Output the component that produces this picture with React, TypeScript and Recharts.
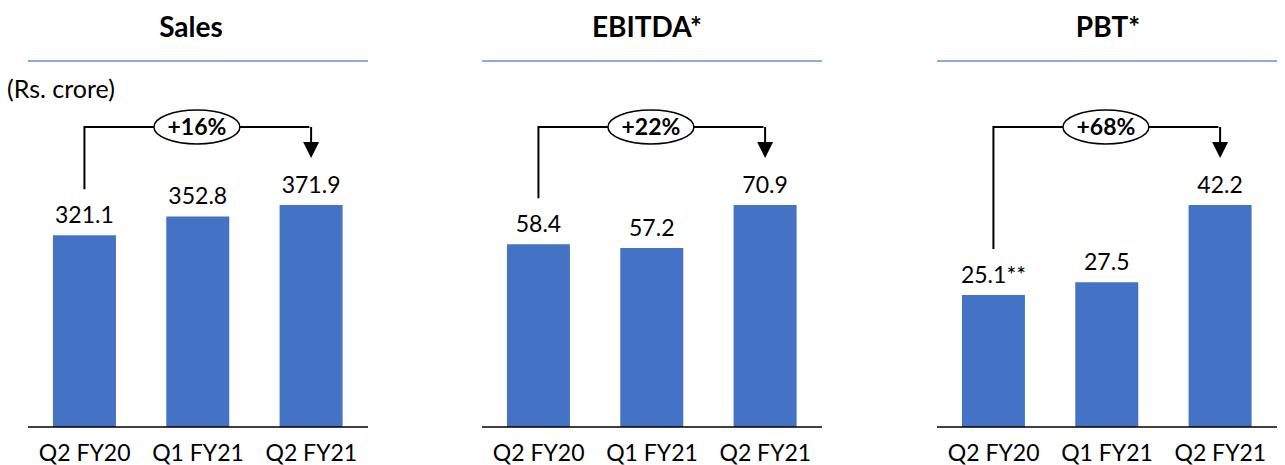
import React from 'react';
import { BarChart, Bar, XAxis, YAxis, LabelList } from 'recharts';

const categories = ['Q2 FY20', 'Q1 FY21', 'Q2 FY21'];

const salesValues = [321.1, 352.8, 371.9];
const ebitdaValues = [58.4, 57.2, 70.9];
const pbtValues = [25.1, 27.5, 42.2];

const salesNotes = ['', '', ''];
const ebitdaNotes = ['', '', ''];
const pbtNotes = ['**', '', ''];

const panelTitles = ['Sales', 'EBITDA*', 'PBT*'];
const growthLabels = ['+16%', '+22%', '+68%'];

const BAR_COLOR = '#4472C4';
const FONT = 'Lato, "Open Sans", sans-serif';
const BRACKET_Y = 127;
const GAP = 0.22;

interface PanelProps {
  title: string;
  values: number[];
  notes: string[];
  growth: string;
  left: number;
  titleX: number;
}

const Panel: React.FC<PanelProps> = ({ title, values, notes, growth, left, titleX }) => {
  const data = categories.map((name, i) => ({ name, value: values[i], note: notes[i] }));
  // the tallest bar ends ~222px above the axis, plot area is 327px high
  const yMax = Math.max(...values) * (327 / 222);

  const renderLabel = (props: any) => {
    const { x, y, width, index, value } = props;
    const cx = x + width / 2;
    const step = width / (1 - 2 * GAP);
    return (
      <g>
        <text x={cx} y={y - 12} textAnchor="middle" fontSize={23} fontFamily={FONT} fill="#000">
          {value}
          {data[index].note}
        </text>
        {index === 0 && (
          <g>
            <polyline
              points={`${cx},${y - 46} ${cx},${BRACKET_Y} ${cx + 2 * step},${BRACKET_Y}`}
              fill="none"
              stroke="#000"
              strokeWidth={2}
            />
            <ellipse cx={cx + step} cy={BRACKET_Y} rx={43} ry={17} fill="#fff" stroke="#000" strokeWidth={1.5} />
            <text
              x={cx + step}
              y={BRACKET_Y + 8}
              textAnchor="middle"
              fontSize={23}
              fontWeight={700}
              fontFamily={FONT}
              fill="#000"
            >
              {growth}
            </text>
          </g>
        )}
        {index === 2 && (
          <g>
            <line x1={cx} y1={BRACKET_Y} x2={cx} y2={y - 60} stroke="#000" strokeWidth={2} />
            <polygon points={`${cx - 8},${y - 63} ${cx + 8},${y - 63} ${cx},${y - 47}`} fill="#000" />
          </g>
        )}
      </g>
    );
  };

  return (
    <div style={{ position: 'absolute', left, top: 0, width: 340, height: 465 }}>
      <div
        style={{
          position: 'absolute',
          left: titleX - left - 100,
          width: 200,
          top: 9,
          textAlign: 'center',
          fontFamily: FONT,
          fontWeight: 700,
          fontSize: 28,
          lineHeight: '34px',
          color: '#000',
        }}
      >
        {title}
      </div>
      <div style={{ position: 'absolute', left: 0, top: 60, width: 340, height: 2, background: '#8EA9DB' }} />
      <BarChart
        width={340}
        height={465}
        data={data}
        margin={{ top: 100, right: 0, bottom: 0, left: 0 }}
        barCategoryGap={`${GAP * 100}%`}
      >
        <XAxis
          dataKey="name"
          height={38}
          axisLine={{ stroke: '#000', strokeWidth: 1.5 }}
          tickLine={false}
          tickMargin={12}
          interval={0}
          tick={{ fontSize: 23, fill: '#000', fontFamily: FONT }}
        />
        <YAxis hide domain={[0, yMax]} />
        <Bar dataKey="value" fill={BAR_COLOR} isAnimationActive={false}>
          <LabelList dataKey="value" content={renderLabel} />
        </Bar>
      </BarChart>
    </div>
  );
};

export default function App() {
  return (
    <div style={{ position: 'absolute', left: 0, top: 0, width: 1285, height: 465, background: '#fff', overflow: 'hidden' }}>
      <div
        style={{
          position: 'absolute',
          left: 7,
          top: 74,
          fontFamily: FONT,
          fontSize: 25,
          lineHeight: '28px',
          color: '#000',
        }}
      >
        (Rs. crore)
      </div>
      <Panel title={panelTitles[0]} values={salesValues} notes={salesNotes} growth={growthLabels[0]} left={28} titleX={191} />
      <Panel title={panelTitles[1]} values={ebitdaValues} notes={ebitdaNotes} growth={growthLabels[1]} left={482} titleX={647} />
      <Panel title={panelTitles[2]} values={pbtValues} notes={pbtNotes} growth={growthLabels[2]} left={937} titleX={1108} />
    </div>
  );
}
